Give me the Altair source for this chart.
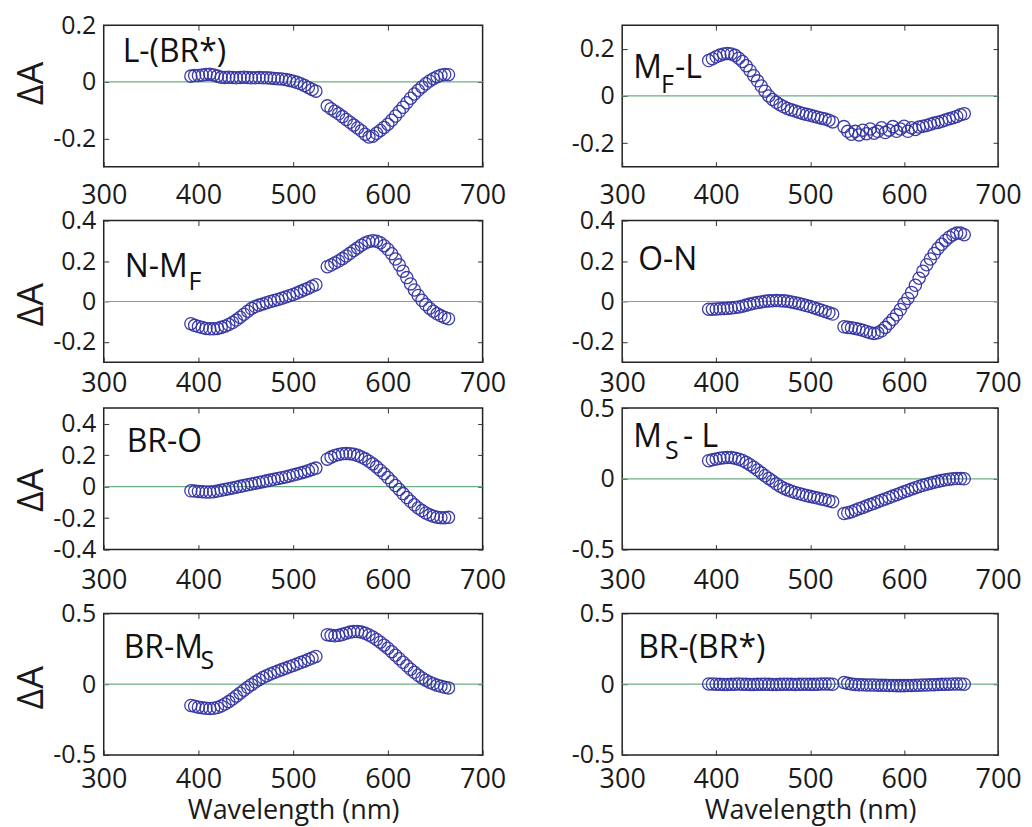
import altair as alt
import pandas as pd

# ---------------- data ----------------
WL = [392, 396, 400, 404, 408, 412, 416, 420, 424, 428, 432, 436, 440, 444, 448, 452, 456,
      460, 464, 468, 472, 476, 480, 484, 488, 492, 496, 500, 504, 508, 512, 516, 520, 524,
      536, 540, 544, 548, 552, 556, 560, 564, 568, 572, 576, 580, 584, 588, 592, 596, 600,
      604, 608, 612, 616, 620, 624, 628, 632, 636, 640, 644, 648, 652, 656, 660, 664]

L_BRS = [0.020, 0.022, 0.022, 0.024, 0.026, 0.027, 0.024, 0.020, 0.016, 0.015, 0.016, 0.015,
         0.014, 0.015, 0.016, 0.015, 0.014, 0.014, 0.015, 0.014, 0.014, 0.013, 0.012, 0.011,
         0.010, 0.008, 0.005, 0.002, -0.002, -0.007, -0.013, -0.020, -0.027, -0.033,
         -0.085, -0.095, -0.104, -0.113, -0.123, -0.133, -0.143, -0.153, -0.163, -0.173, -0.185,
         -0.195, -0.192, -0.182, -0.172, -0.161, -0.150, -0.136, -0.121, -0.105, -0.090, -0.074,
         -0.058, -0.043, -0.030, -0.018, -0.007, 0.003, 0.011, 0.018, 0.023, 0.026, 0.025]

MF_L = [0.150, 0.158, 0.166, 0.173, 0.178, 0.180, 0.178, 0.172, 0.160, 0.146, 0.128, 0.108,
        0.086, 0.064, 0.042, 0.020, 0.000, -0.015, -0.027, -0.037, -0.046, -0.053, -0.059,
        -0.064, -0.069, -0.074, -0.078, -0.082, -0.086, -0.090, -0.094, -0.098, -0.103, -0.110,
        -0.130, -0.150, -0.162, -0.150, -0.165, -0.145, -0.160, -0.140, -0.158, -0.150, -0.135,
        -0.155, -0.145, -0.130, -0.150, -0.140, -0.128, -0.150, -0.135, -0.142, -0.132, -0.128,
        -0.125, -0.120, -0.115, -0.112, -0.107, -0.102, -0.097, -0.092, -0.087, -0.080, -0.075]

N_MF = [-0.110, -0.118, -0.124, -0.129, -0.133, -0.135, -0.135, -0.133, -0.128, -0.122, -0.114,
        -0.104, -0.092, -0.078, -0.063, -0.048, -0.035, -0.025, -0.018, -0.012, -0.006, 0.000,
        0.005, 0.010, 0.016, 0.022, 0.028, 0.035, 0.042, 0.050, 0.058, 0.066, 0.075, 0.083,
        0.172, 0.180, 0.190, 0.200, 0.212, 0.225, 0.238, 0.252, 0.265, 0.278, 0.289, 0.297,
        0.300, 0.298, 0.290, 0.276, 0.258, 0.236, 0.210, 0.181, 0.150, 0.118, 0.087, 0.057,
        0.030, 0.006, -0.015, -0.033, -0.048, -0.061, -0.071, -0.079, -0.085]

O_N = [-0.038, -0.038, -0.037, -0.036, -0.035, -0.034, -0.032, -0.030, -0.027, -0.023, -0.018,
       -0.013, -0.009, -0.005, -0.002, 0.001, 0.003, 0.004, 0.005, 0.004, 0.003, 0.001, -0.002,
       -0.006, -0.010, -0.015, -0.020, -0.025, -0.031, -0.037, -0.043, -0.049, -0.056, -0.062,
       -0.125, -0.128, -0.130, -0.133, -0.137, -0.142, -0.148, -0.154, -0.158, -0.155, -0.145,
       -0.128, -0.108, -0.088, -0.066, -0.040, -0.010, 0.015, 0.045, 0.080, 0.115, 0.150, 0.182,
       0.210, 0.237, 0.262, 0.283, 0.302, 0.318, 0.330, 0.338, 0.338, 0.330]

BR_O = [-0.026, -0.028, -0.030, -0.032, -0.034, -0.034, -0.032, -0.028, -0.023, -0.018, -0.013,
        -0.008, -0.003, 0.002, 0.007, 0.012, 0.017, 0.022, 0.027, 0.032, 0.037, 0.042, 0.047,
        0.052, 0.057, 0.062, 0.068, 0.074, 0.080, 0.087, 0.094, 0.102, 0.110, 0.118,
        0.175, 0.188, 0.198, 0.205, 0.209, 0.211, 0.210, 0.206, 0.199, 0.189, 0.177, 0.162,
        0.145, 0.126, 0.105, 0.082, 0.058, 0.033, 0.008, -0.018, -0.044, -0.069, -0.093, -0.115,
        -0.135, -0.152, -0.167, -0.179, -0.188, -0.194, -0.197, -0.197, -0.195]

MS_L = [0.128, 0.134, 0.140, 0.145, 0.149, 0.151, 0.150, 0.146, 0.139, 0.129, 0.116, 0.100,
        0.082, 0.062, 0.042, 0.022, 0.003, -0.015, -0.035, -0.052, -0.066, -0.078, -0.088,
        -0.096, -0.104, -0.111, -0.118, -0.124, -0.130, -0.136, -0.142, -0.148, -0.155, -0.162,
        -0.245, -0.240, -0.232, -0.222, -0.212, -0.202, -0.192, -0.182, -0.172, -0.162, -0.152,
        -0.142, -0.132, -0.122, -0.112, -0.102, -0.092, -0.082, -0.072, -0.063, -0.054, -0.046,
        -0.038, -0.031, -0.024, -0.018, -0.012, -0.007, -0.003, 0.000, 0.002, 0.002, 0.000]

BR_MS = [-0.150, -0.156, -0.162, -0.166, -0.170, -0.172, -0.170, -0.164, -0.154, -0.140, -0.123,
         -0.104, -0.084, -0.063, -0.042, -0.022, -0.003, 0.015, 0.032, 0.047, 0.060, 0.072, 0.083,
         0.093, 0.103, 0.113, 0.123, 0.133, 0.143, 0.153, 0.163, 0.174, 0.185, 0.196,
         0.350, 0.345, 0.342, 0.345, 0.352, 0.360, 0.368, 0.372, 0.372, 0.368, 0.360, 0.348,
         0.333, 0.316, 0.297, 0.276, 0.254, 0.230, 0.205, 0.180, 0.155, 0.130, 0.106, 0.084,
         0.063, 0.044, 0.028, 0.014, 0.003, -0.007, -0.015, -0.022, -0.026]

BR_BRS = [0.002, 0.001, 0.000, -0.001, -0.002, -0.002, -0.001, 0.000, 0.001, 0.000, -0.001,
          -0.002, -0.002, -0.001, 0.000, 0.000, -0.001, -0.002, -0.002, -0.001, 0.000, 0.000,
          -0.001, -0.002, -0.001, 0.000, 0.000, -0.001, -0.001, 0.000, 0.001, 0.002, 0.001, 0.000,
          0.012, 0.006, 0.001, -0.002, -0.003, -0.004, -0.005, -0.006, -0.006, -0.007, -0.008,
          -0.008, -0.009, -0.009, -0.010, -0.010, -0.010, -0.009, -0.009, -0.008, -0.007, -0.006,
          -0.005, -0.004, -0.003, -0.002, -0.001, 0.000, 0.000, 0.001, 0.001, 0.001, 0.000]

SERIES = [L_BRS, MF_L, N_MF, O_N, BR_O, MS_L, BR_MS, BR_BRS]

Y_DOMAINS = [[-0.3, 0.2], [-0.3, 0.3], [-0.3, 0.4], [-0.3, 0.4],
             [-0.4, 0.5], [-0.5, 0.5], [-0.5, 0.5], [-0.5, 0.5]]
Y_TICKS = [[-0.2, 0, 0.2], [-0.2, 0, 0.2], [-0.2, 0, 0.2, 0.4], [-0.2, 0, 0.2, 0.4],
           [-0.4, -0.2, 0, 0.2, 0.4], [-0.5, 0, 0.5], [-0.5, 0, 0.5], [-0.5, 0, 0.5]]
X_TICKS = [300, 400, 500, 600, 700]
X_INNER = [400, 500, 600]

# panel labels: text pieces, anchor wavelength, anchor value, font size
LABEL_TEXT = [["L-(BR*)"], ["M", "F", "-L"], ["N-M", "F"], ["O-N"], ["BR-O"],
              ["M", "S", "- L"], ["BR-M", "S"], ["BR-(BR*)"]]
LABEL_X = [[320.0], [311.7, 341.4, 356.3], [322.1, 389.5], [317.0], [324.2],
           [311.7, 345.6, 364.7], [321.1, 402.1], [317.0]]
LABEL_Y = [[0.069], [0.074, 0.011, 0.074], [0.121, 0.057], [0.157], [0.221],
           [0.225, 0.141, 0.225], [0.183, 0.106], [0.183]]
LABEL_SIZE = [[32], [32, 25, 32], [32, 25], [32], [32], [32, 25, 32], [32, 25], [32]]

# ---------------- styling ----------------
FONT = "Open Sans"
BLUE = "#3434a4"
GREEN = "#6fae84"
INK = "#1a1a1a"
WIDTHS = [380, 377]
HEIGHT = 142
X_LABEL_PAD = [16, 8, 18, 12]
Y_TITLE_Y = [58, 84, 82, 74]


def panel(i):
    row, col = divmod(i, 2)
    xs = alt.Scale(domain=[300, 700], nice=False, zero=False)
    ys = alt.Scale(domain=Y_DOMAINS[i], nice=False, zero=False)

    x_kw = dict(values=X_TICKS, labelExpr="toString(datum.value)", labelFont=FONT,
                labelFontSize=27, labelColor=INK, labelPadding=X_LABEL_PAD[row],
                labelFlush=False, labelOverlap=False, tickSize=5, offset=-5,
                tickColor="#333333", domain=False, grid=False)
    if row == 3:
        x_kw.update(title="Wavelength (nm)", titleFont=FONT, titleFontSize=27,
                    titleFontWeight="normal", titleColor=INK, titlePadding=5)
    else:
        x_kw.update(title=None)

    y_kw = dict(values=Y_TICKS[i], labelExpr="toString(datum.value)", labelFont=FONT,
                labelFontSize=25, labelColor=INK, labelPadding=8, tickSize=5, offset=-5,
                tickColor="#333333", domain=False, grid=False)
    if col == 0:
        y_kw.update(title="ΔA", titleFont=FONT, titleFontSize=36, titleFontWeight="normal",
                    titleColor=INK, titleAngle=270, titleY=Y_TITLE_Y[row],
                    titleAlign="center", titlePadding=2)
    else:
        y_kw.update(title=None)

    df = pd.DataFrame({"wl": WL, "dA": SERIES[i]})
    zero_df = pd.DataFrame({"z": [0.0]})
    lab_df = pd.DataFrame({"t": LABEL_TEXT[i], "x": LABEL_X[i], "y": LABEL_Y[i],
                           "s": LABEL_SIZE[i]})

    rule = alt.Chart(zero_df).mark_rule(color=GREEN, strokeWidth=1.2).encode(
        y=alt.Y("z:Q", scale=ys,
                axis=alt.Axis(orient="right", values=Y_TICKS[i], labels=False, tickSize=5,
                              offset=-5, tickColor="#333333", domain=False, grid=False,
                              title=None))
    )
    pts = alt.Chart(df).mark_point(shape="circle", filled=False, size=150, strokeWidth=1.3,
                                   color=BLUE, opacity=0.95).encode(
        x=alt.X("wl:Q", scale=xs, axis=alt.Axis(**x_kw)),
        y=alt.Y("dA:Q", scale=ys, axis=alt.Axis(**y_kw)),
    )
    txt = alt.Chart(lab_df).mark_text(align="left", baseline="alphabetic", font=FONT,
                                      color="#111111").encode(
        x=alt.X("x:Q", scale=xs,
                axis=alt.Axis(orient="top", values=X_INNER, labels=False, tickSize=5,
                              offset=-5, tickColor="#333333", domain=False, grid=False,
                              title=None)),
        y=alt.Y("y:Q", scale=ys, axis=None),
        text="t:N",
        size=alt.Size("s:Q", scale=None, legend=None),
    )
    return alt.layer(rule, pts, txt).resolve_axis(x="independent", y="independent").properties(
        width=WIDTHS[col], height=HEIGHT)


panels = [panel(i) for i in range(8)]

top_half = alt.concat(*panels[:4], columns=2, spacing={"row": 54, "column": 140}, bounds="flush")
bottom_half = alt.concat(*panels[4:], columns=2, spacing={"row": 64, "column": 140}, bounds="flush")

chart = alt.vconcat(top_half, bottom_half, spacing=-2).properties(
    padding={"left": 5, "top": 3, "right": 2, "bottom": 0}
).configure(
    font=FONT,
    view=alt.ViewConfig(stroke="#222222", strokeWidth=1.5),
)

chart.save("out.html", embed_options={"renderer": "svg", "actions": False})
